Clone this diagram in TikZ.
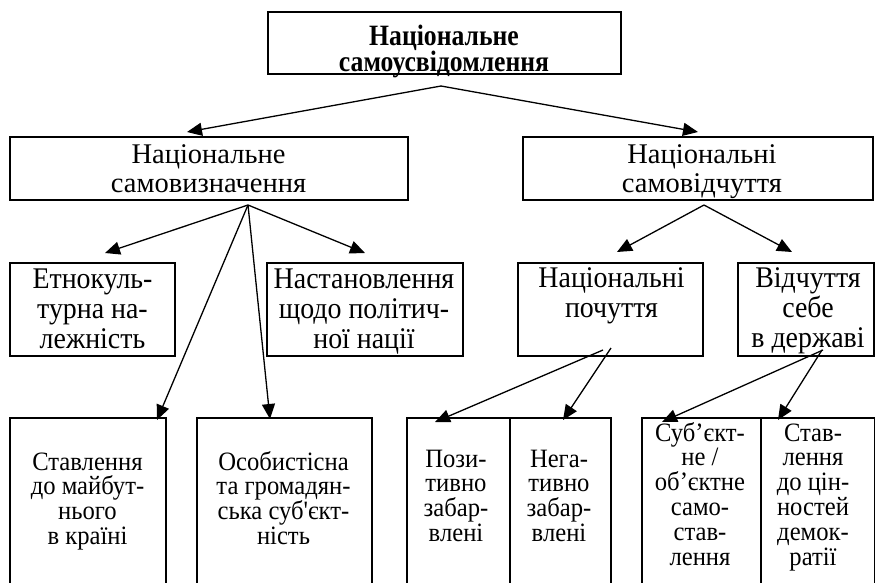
\documentclass[tikz,border=0pt]{standalone}
\usepackage{fontspec}
\setmainfont{Liberation Serif}[Ligatures=TeXOff]
\newfontfamily\titlefont{Liberation Serif}[FakeStretch=0.87, Ligatures=TeXOff]
\newfontfamily\tallfont{Liberation Serif}[FakeStretch=0.93, Ligatures=TeXOff]
\usetikzlibrary{arrows.meta}
\newcommand\linestack[1]{\vtop{\halign{\hfil##\hfil\cr#1\crcr}}}
\begin{document}
\begin{tikzpicture}[x=1pt,y=-1pt,
  box/.style={draw, line width=1.8pt, inner sep=0pt},
  arr/.style={line width=1.3pt, -{Triangle[length=15pt,width=13pt]}},
  lbl/.style={inner sep=0pt, anchor=base},
  big/.style={lbl, font=\tallfont\fontsize{30}{30}\selectfont},
  mid/.style={lbl, font=\fontsize{28.5}{29}\selectfont},
  small/.style={lbl, font=\tallfont\fontsize{26.5}{24.8}\selectfont},
  title/.style={lbl, font=\titlefont\bfseries\fontsize{29.5}{23}\selectfont},
]
\useasboundingbox (0,0) rectangle (875,582);
\clip (0,0) rectangle (875,582);

% boxes
\node[box, line width=2.2pt, minimum width=353pt, minimum height=62pt] (bTop) at (444.5,43) {};
\node[box, minimum width=398pt, minimum height=63pt] (bSV) at (209,168.5) {};
\node[box, minimum width=350pt, minimum height=63pt] (bSF) at (698,168.5) {};
\node[box, minimum width=165pt, minimum height=93pt] (bEth) at (92.5,309.5) {};
\node[box, minimum width=196pt, minimum height=93pt] (bNast) at (365,309.5) {};
\node[box, minimum width=185pt, minimum height=93pt] (bPoch) at (610.5,309.5) {};
\node[box, minimum width=136pt, minimum height=93pt] (bVid) at (806,309.5) {};
\node[box, minimum width=156pt, minimum height=182pt] (bMai) at (88,509) {};
\node[box, minimum width=175pt, minimum height=182pt] (bOso) at (284.5,509) {};
\node[box, minimum width=103pt, minimum height=182pt] (bPoz) at (458.5,509) {};
\node[box, minimum width=101pt, minimum height=182pt] (bNeg) at (560.5,509) {};
\node[box, minimum width=119pt, minimum height=182pt] (bSub) at (701.5,509) {};
\node[box, minimum width=114pt, minimum height=182pt] (bDem) at (818,509) {};

% texts (positioned at the baseline of the first line)
\node[title] (tTop) at (444,45) {\linestack{Національне\cr самоусвідомлення}};
\node[mid] (tSV) at (208.5,163) {\linestack{Національне\cr самовизначення}};
\node[mid] (tSF) at (702,163) {\linestack{Національні\cr самовідчуття}};
\node[big] (tEth) at (92.5,288) {\linestack{Етнокуль-\cr турна на-\cr лежність}};
\node[big] (tNast) at (364,288) {\linestack{Настановлення\cr щодо політич-\cr ної нації}};
\node[big] (tPoch) at (611.5,287) {\linestack{Національні\cr почуття}};
\node[big] (tVid) at (808,287) {\linestack{Відчуття\cr себе\cr в державі}};
\node[small] (tMai) at (87.5,470) {\linestack{Ставлення\cr до майбут-\cr нього\cr в країні}};
\node[small] (tOso) at (283.5,470) {\linestack{Особистісна\cr та громадян-\cr ська суб'єкт-\cr ність}};
\node[small] (tPoz) at (456,467) {\linestack{Пози-\cr тивно\cr забар-\cr влені}};
\node[small] (tNeg) at (559,467) {\linestack{Нега-\cr тивно\cr забар-\cr влені}};
\node[small] (tSub) at (700,441) {\linestack{Суб’єкт-\cr не /\cr об’єктне\cr само-\cr став-\cr лення}};
\node[small] (tDem) at (813,441) {\linestack{Став-\cr лення\cr до цін-\cr ностей\cr демок-\cr ратії}};

% connector origins and tips
\coordinate (o0) at (441,86);
\coordinate (o1) at (248,205);
\coordinate (o2) at (704,205);
\coordinate (o3) at (603,350);
\coordinate (o3b) at (611,348);
\coordinate (o4) at (823,350);
\coordinate (o4b) at (822,350);
\coordinate (pSV) at (187,132);
\coordinate (pSF) at (698,132);
\coordinate (pEth) at (105,253);
\coordinate (pNast) at (365,253);
\coordinate (pMai) at (157,420);
\coordinate (pOso) at (270,419);
\coordinate (pPoch) at (617,252);
\coordinate (pVid) at (792,252);
\coordinate (pPoz) at (435,422);
\coordinate (pNeg) at (563,420);
\coordinate (pSub) at (662,422);
\coordinate (pDem) at (778,420);

\draw[arr] (o0) -- (pSV);
\draw[arr] (o0) -- (pSF);
\draw[arr] (o1) -- (pEth);
\draw[arr] (o1) -- (pNast);
\draw[arr] (o1) -- (pMai);
\draw[arr] (o1) -- (pOso);
\draw[arr] (o2) -- (pPoch);
\draw[arr] (o2) -- (pVid);
\draw[arr] (o3) -- (pPoz);
\draw[arr] (o3b) -- (pNeg);
\draw[arr] (o4) -- (pSub);
\draw[arr] (o4b) -- (pDem);
\end{tikzpicture}
\end{document}
